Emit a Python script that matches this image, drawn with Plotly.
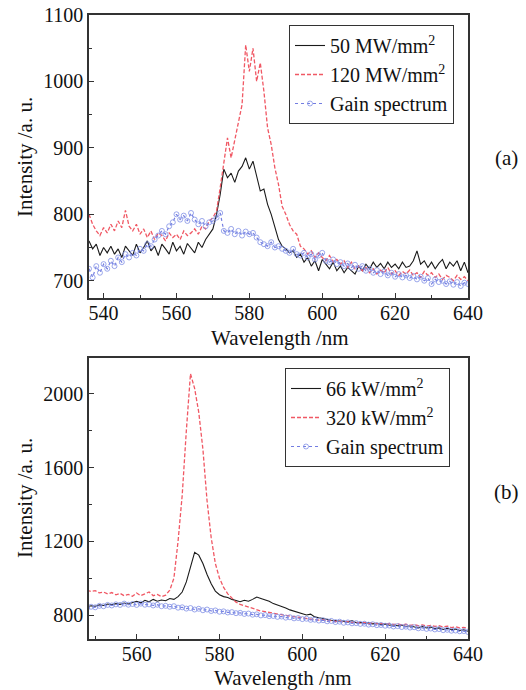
import plotly.graph_objects as go

# ---------------- Panel (a) data ----------------
wl_a = list(range(536, 641))
black_a = [760, 748, 755, 738, 750, 742, 752, 740, 748, 735,
           752, 745, 738, 755, 742, 750, 760, 745, 752, 738,
           755, 748, 740, 758, 745, 752, 740, 756, 748, 742,
           758, 750, 762, 770, 778, 800, 830, 868, 855, 862,
           848, 865, 872, 885, 868, 880, 858, 835, 838, 815,
           800, 780, 762, 752, 748, 742, 745, 735, 740, 728,
           735, 722, 730, 715, 732, 725, 718, 728, 715, 722,
           712, 720, 715, 710, 722, 715, 725, 718, 728, 720,
           726, 718, 728, 720, 725, 718, 728, 720, 722, 730,
           745, 725, 730, 720, 728, 718, 726, 732, 718, 728,
           722, 730, 715, 728, 712]
red_a = [800, 785, 775, 768, 780, 772, 785, 775, 790, 780,
         806, 782, 775, 785, 770, 778, 765, 775, 762, 772,
         768, 760, 772, 765, 770, 762, 775, 768, 772, 778,
         770, 782, 778, 790, 795, 805, 840, 878, 915, 885,
         912, 935, 965, 1055, 1015, 1050, 1000, 1028, 985, 930,
         905, 870, 845, 812, 800, 785, 775, 770, 752, 748,
         740, 745, 735, 742, 735, 730, 738, 728, 732, 725,
         730, 720, 728, 718, 722, 715, 720, 712, 718, 710,
         716, 712, 720, 710, 715, 708, 714, 710, 716, 708,
         712, 705, 714, 708, 712, 705, 710, 702, 708, 705,
         700, 708, 702, 706, 700]
gain_a = [718, 705, 722, 712, 725, 718, 730, 722, 735, 728,
          740, 735, 742, 738, 748, 745, 755, 752, 762, 768,
          775, 770, 782, 788, 800, 792, 798, 790, 802, 792,
          785, 790, 782, 788, 790, 795, 802, 775, 772, 778,
          770, 775, 768, 774, 770, 772, 765, 758, 755, 752,
          758, 750, 752, 748, 745, 742, 748, 740, 738, 742,
          735, 740, 732, 738, 742, 730, 728, 732, 725, 728,
          722, 726, 720, 724, 718, 722, 715, 718, 712, 716,
          710, 714, 708, 712, 706, 710, 705, 708, 704, 707,
          702, 706, 700, 704, 695, 702, 698, 700, 695, 699,
          694, 698, 692, 697, 695]

# ---------------- Panel (b) data ----------------
wl_b = list(range(548, 641))
black_b = [845, 850, 848, 855, 852, 860, 856, 862, 858, 865,
           860, 868, 875, 866, 880, 872, 885, 875, 882, 878,
           890, 885, 900, 925, 980, 1060, 1140, 1125, 1080, 1020,
           970, 930, 910, 900, 895, 885, 880, 872, 880, 875,
           885, 898, 890, 882, 875, 862, 855, 845, 838, 828,
           822, 812, 808, 800, 805, 790, 785, 780, 776, 772,
           770, 766, 768, 762, 770, 758, 760, 755, 758, 752,
           755, 748, 752, 745, 748, 742, 746, 738, 742, 735,
           730, 738, 730, 735, 726, 730, 722, 728, 720, 724,
           716, 720, 712]
red_b = [935, 928, 932, 920, 925, 915, 922, 910, 918, 905,
         912, 902, 920, 905, 915, 925, 905, 912, 900, 908,
         935, 1000, 1200, 1450, 1800, 2110, 2030, 1900, 1700, 1420,
         1220, 1080, 1000, 950, 915, 890, 870, 858, 850, 842,
         835, 830, 822, 818, 815, 810, 806, 802, 798, 795,
         792, 790, 786, 782, 780, 776, 772, 775, 768, 770,
         765, 768, 762, 765, 760, 762, 756, 760, 754, 758,
         752, 755, 750, 754, 748, 752, 746, 750, 744, 748,
         742, 746, 740, 744, 738, 742, 735, 740, 732, 736,
         730, 733, 728]
gain_b = [838, 845, 842, 850, 848, 855, 852, 858, 855, 862,
          856, 860, 855, 862, 856, 858, 852, 856, 848, 850,
          845, 848, 840, 842, 835, 838, 830, 834, 826, 830,
          822, 825, 818, 820, 814, 816, 810, 812, 806, 808,
          802, 804, 798, 800, 794, 795, 790, 792, 786, 788,
          782, 784, 778, 780, 774, 775, 770, 772, 766, 768,
          762, 764, 758, 760, 755, 756, 752, 753, 748, 750,
          745, 746, 742, 743, 738, 740, 735, 737, 732, 734,
          728, 730, 725, 727, 722, 724, 718, 720, 715, 716,
          712, 713, 708]

names_a = ["50 MW/mm<sup>2</sup>", "120 MW/mm<sup>2</sup>", "Gain spectrum"]
names_b = ["66 kW/mm<sup>2</sup>", "320 kW/mm<sup>2</sup>", "Gain spectrum"]

FONT = "Times New Roman, Liberation Serif, Times, serif"
BLACK = "#1a1a1a"
RED = "rgb(240,88,100)"
BLUE = "rgb(115,125,225)"

fig = go.Figure()

def add_panel(wl, blk, red, gain, names, xa, ya, leg):
    fig.add_trace(go.Scatter(x=wl, y=blk, name=names[0], mode="lines",
                             line=dict(color=BLACK, width=1.1),
                             xaxis=xa, yaxis=ya, legend=leg))
    fig.add_trace(go.Scatter(x=wl, y=red, name=names[1], mode="lines",
                             line=dict(color=RED, width=1.3, dash="4px,2px"),
                             xaxis=xa, yaxis=ya, legend=leg))
    fig.add_trace(go.Scatter(x=wl, y=gain, name=names[2], mode="lines+markers",
                             line=dict(color=BLUE, width=1.2, dash="dot"),
                             marker=dict(symbol="circle-open", size=5,
                                         color="rgba(130,145,230,0.8)",
                                         line=dict(width=1)),
                             xaxis=xa, yaxis=ya, legend=leg))

add_panel(wl_a, black_a, red_a, gain_a, names_a, "x", "y", "legend")
add_panel(wl_b, black_b, red_b, gain_b, names_b, "x2", "y2", "legend2")

axis_common = dict(showline=True, linecolor="#333", linewidth=1.5, mirror=True,
                   ticks="inside", ticklen=5, tickwidth=1, tickcolor="#333",
                   showgrid=False, zeroline=False, automargin=False,
                   tickfont=dict(family=FONT, size=20, color="#111"))

xd = [89 / 526, 468 / 526]
minor_x = dict(dtick=10, ticks="inside", ticklen=3, tickcolor="#333")
fig.update_layout(
    width=526, height=690, autosize=False,
    margin=dict(l=0, r=0, t=0, b=0, pad=0),
    paper_bgcolor="white", plot_bgcolor="white",
    font=dict(family=FONT, color="#111"),
    showlegend=True,
    xaxis=dict(domain=xd, anchor="y", range=[536, 640], dtick=20, tick0=540,
               minor=minor_x, ticklabelstandoff=-4, **axis_common),
    yaxis=dict(domain=[1 - 298 / 690, 1 - 15 / 690], anchor="x", range=[674, 1100],
               dtick=100, tick0=700,
               minor=dict(dtick=50, ticks="inside", ticklen=3, tickcolor="#333"),
               **axis_common),
    xaxis2=dict(domain=xd, anchor="y2", range=[548.5, 640], dtick=20, tick0=560,
                minor=minor_x, ticklabelstandoff=-4, **axis_common),
    yaxis2=dict(domain=[1 - 639 / 690, 1 - 358 / 690], anchor="x2", range=[670, 2195],
                dtick=400, tick0=800,
                minor=dict(dtick=200, ticks="inside", ticklen=3, tickcolor="#333"),
                **axis_common),
    legend=dict(x=289 / 526, y=1 - 25 / 690, xanchor="left", yanchor="top",
                bgcolor="white", bordercolor="#333", borderwidth=1,
                font=dict(family=FONT, size=20, color="#111"),
                tracegroupgap=0, itemwidth=30),
    legend2=dict(x=285 / 526, y=1 - 368 / 690, xanchor="left", yanchor="top",
                 bgcolor="white", bordercolor="#333", borderwidth=1,
                 font=dict(family=FONT, size=20, color="#111"),
                 tracegroupgap=0, itemwidth=30),
)

ann_font = dict(family=FONT, size=21, color="#111")
annotations = [
    dict(text="Intensity /a. u.", x=25 / 526, y=1 - 157 / 690, textangle=-90),
    dict(text="Wavelength /nm", x=280 / 526, y=1 - 338 / 690),
    dict(text="Intensity /a. u.", x=25 / 526, y=1 - 498 / 690, textangle=-90),
    dict(text="Wavelength /nm", x=283 / 526, y=1 - 678 / 690),
    dict(text="(a)", x=506 / 526, y=1 - 158 / 690),
    dict(text="(b)", x=506 / 526, y=1 - 492 / 690),
]
for a in annotations:
    fig.add_annotation(xref="paper", yref="paper", showarrow=False,
                       xanchor="center", yanchor="middle", font=ann_font, **a)

fig.write_html("out.html", config={"displayModeBar": False},
               post_script="document.body.style.margin='0';document.body.style.overflow='hidden';")
